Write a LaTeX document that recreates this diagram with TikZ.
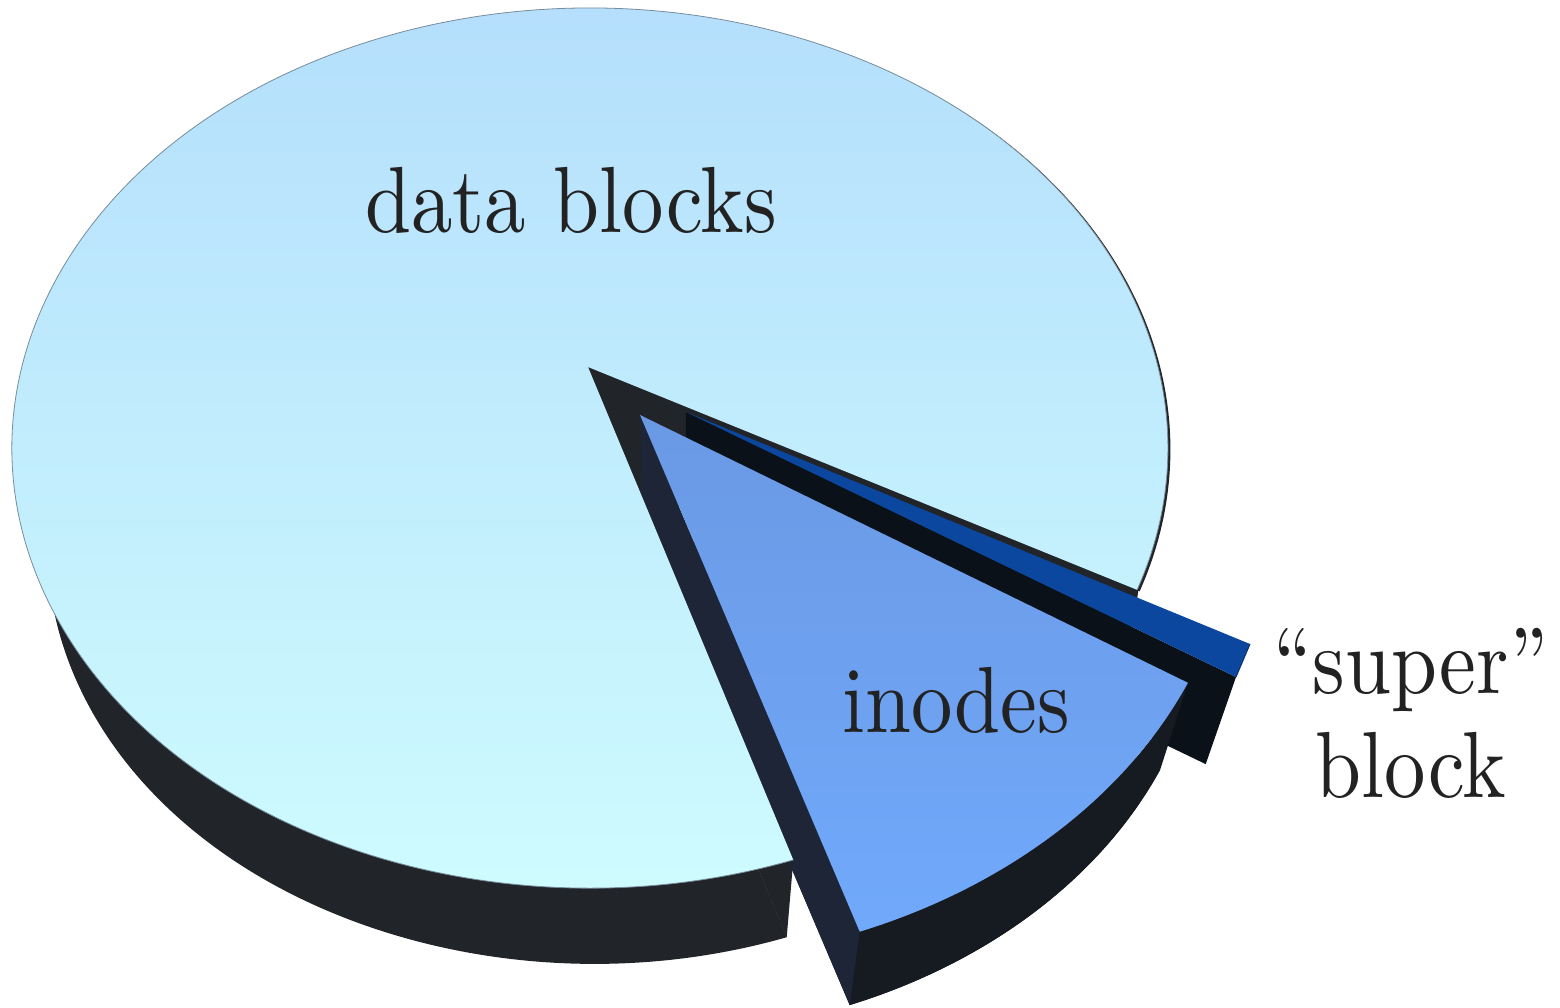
\documentclass[tikz,border=0pt]{standalone}
\usepackage{graphicx}
\usepackage{fontspec}
\newfontfamily\piecefont{lmroman10-regular.otf}
\definecolor{wallgray}{RGB}{33,36,40}
\definecolor{superface}{RGB}{10,17,25}
\definecolor{superblue}{RGB}{11,71,159}
\definecolor{inodeside}{RGB}{29,37,54}
\definecolor{inodewall}{RGB}{22,26,33}
\definecolor{inodetop}{RGB}{106,153,228}
\definecolor{inodebot}{RGB}{113,169,251}
\definecolor{datatop}{RGB}{179,221,252}
\definecolor{databot}{RGB}{207,253,254}
\definecolor{rimline}{RGB}{120,140,155}
\definecolor{labelink}{RGB}{34,34,34}
\begin{document}
\begin{tikzpicture}[x=1pt,y=-1pt,
  % the lower face of every slice: the upper face pulled towards the vanishing point
  lower/.style={xshift=36.4pt,yshift=-123.7pt,scale=0.946},
  piecetext/.style={text=labelink,inner sep=0pt,anchor=base,
    font=\piecefont\fontsize{94}{104}\selectfont}]
\useasboundingbox (0,0) rectangle (1560,1008);
\fill[white] (0,0) rectangle (1560,1008);

% ---------- data blocks: body ----------
\begin{scope}[lower]
  \fill[wallgray] (588,367) -- (793.3,859.9)
    arc[start angle=69.4,end angle=378.8,x radius=578,y radius=440] -- cycle;
\end{scope}
% thin dark rim along the right of the upper face
\begin{scope}[xshift=2.5pt,yshift=-1.5pt]
  \fill[wallgray] (588,367) -- (793.3,859.9)
    arc[start angle=69.4,end angle=378.8,x radius=578,y radius=440] -- cycle;
\end{scope}
% cut faces
\fill[wallgray] (588,367) -- (793.3,859.9) -- (786.7,937.3) -- (592.6,470.9) -- cycle;
\fill[wallgray] (588,367) -- (1137.2,589.8) -- (1112,681.8) -- (592.6,470.9) -- cycle;

% ---------- "super" block slice ----------
\fill[superface] (686,412) -- (1236,677) -- (1205.7,764.1) -- (685.4,513.5) -- cycle;
\fill[superblue] (686,412) -- (1250,644) -- (1236,677) -- cycle;
\draw[superblue!70!black,line width=1pt] (1250,644) -- (1236,677);

% ---------- inodes slice ----------
\begin{scope}[lower]
  \fill[inodewall] (640,415) -- (859.7,931.7)
    arc[start angle=68.5,end angle=23.2,x radius=594,y radius=464] -- cycle;
\end{scope}
\fill[inodewall] (859.7,931.7)
  arc[start angle=68.5,end angle=23.2,x radius=594,y radius=464]
  -- (1160.2,769.6)
  arc[start angle=23.2,end angle=68.5,x radius=561.9,y radius=438.9] -- cycle;
\fill[inodeside] (640,415) -- (859.7,931.7) -- (849.7,1005.1) -- (641.8,516.3) -- cycle;
\path[top color=inodetop,bottom color=inodebot] (640,415) -- (859.7,931.7)
  arc[start angle=68.5,end angle=23.2,x radius=594,y radius=464] -- cycle;

% ---------- data blocks: upper face ----------
\path[top color=datatop,bottom color=databot] (588,367) -- (793.3,859.9)
  arc[start angle=69.4,end angle=378.8,x radius=578,y radius=440] -- cycle;
\draw[rimline,line width=0.8pt] (793.3,859.9)
  arc[start angle=69.4,end angle=378.8,x radius=578,y radius=440];

% ---------- labels ----------
\node[piecetext] (datalabel) at (571,233) {\scalebox{0.88}[1]{data blocks}};
\node[piecetext] (inodelabel) at (956,732) {\scalebox{0.88}[1]{inodes}};
\node[piecetext] (superlabel) at (1411,693) {\scalebox{0.88}[1]{“super”}};
\node[piecetext] (blocklabel) at (1411,797) {\scalebox{0.88}[1]{block}};
\end{tikzpicture}
\end{document}
